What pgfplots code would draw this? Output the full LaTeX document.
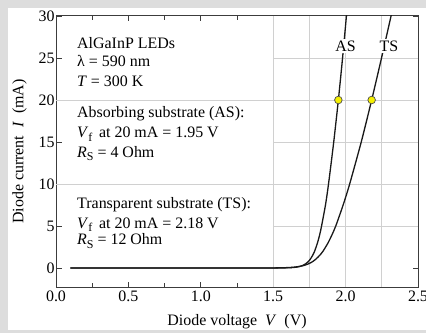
\documentclass[border=0pt]{standalone}
\usepackage{fontspec}
\setmainfont{Liberation Serif}
\usepackage{pgfplots}
\pgfplotsset{compat=1.18}
\definecolor{bggray}{RGB}{221,221,221}
\definecolor{gridgray}{RGB}{208,208,208}
\definecolor{dotyellow}{RGB}{245,240,0}
\definecolor{axgray}{RGB}{60,60,60}
\newcommand\fs{\fontsize{16}{18}\selectfont}
\newcommand\sub[1]{\raisebox{-0.45ex}{\fontsize{12}{12}\selectfont #1}}

\begin{document}
\begin{tikzpicture}[font=\fs]
\useasboundingbox (0,0) rectangle (426bp,333bp);
\fill[bggray] (0,0) rectangle (426bp,333bp);
\fill[white] (8bp,3bp) rectangle (426bp,325bp);
\begin{axis}[
  at={(56bp,46bp)}, anchor=south west,
  scale only axis, width=362bp, height=271bp,
  xmin=0, xmax=2.5, ymin=-2.26, ymax=30,
  xtick={0,0.5,1,1.5,2,2.5},
  minor xtick={0.25,0.75,1.25,1.75,2.25},
  xticklabels={0.0,0.5,1.0,1.5,2.0,2.5},
  ytick={0,5,10,15,20,25,30},
  yticklabels={0,5,10,15,20,25,30},
  ytick pos=both, yticklabel pos=left,
  tick align=inside,
  major tick length=5.5bp, minor tick length=4bp,
  axis line style={draw=axgray, line width=1bp},
  every tick/.style={draw=axgray, line width=0.9bp},
  tick label style={font=\fs},
  yticklabel style={xshift=2bp},
  xlabel={Diode voltage\enspace\textit{V}\enspace(V)},
  ylabel={Diode current\enspace\textit{I}\enspace(mA)},
  label style={font=\fs},
  xlabel style={yshift=-6bp},
  ylabel style={yshift=5bp},
]
% grid
\draw[gridgray, line width=0.9bp] (axis cs:0,10) -- (axis cs:2.5,10);
\draw[gridgray, line width=0.9bp] (axis cs:0,20) -- (axis cs:2.5,20);
\draw[gridgray, line width=0.9bp] (axis cs:1.5,5) -- (axis cs:2.5,5);
\draw[gridgray, line width=0.9bp] (axis cs:1.5,15) -- (axis cs:2.5,15);
\draw[gridgray, line width=0.9bp] (axis cs:1.5,25) -- (axis cs:2.5,25);
\draw[gridgray, line width=0.9bp] (axis cs:1.5,-2.26) -- (axis cs:1.5,30);
\draw[gridgray, line width=0.9bp] (axis cs:1.75,-2.26) -- (axis cs:1.75,30);
\draw[gridgray, line width=0.9bp] (axis cs:2.0,-2.26) -- (axis cs:2.0,30);
\draw[gridgray, line width=0.9bp] (axis cs:2.25,-2.26) -- (axis cs:2.25,30);
% AS curve
\addplot[black!90, line width=1.3bp, smooth, tension=0.4] coordinates {
 (0.1,0) (1.0,0) (1.474,0.001) (1.566,0.01) (1.630,0.05) (1.658,0.1) (1.686,0.2)
 (1.703,0.3) (1.724,0.5) (1.7385,0.7) (1.754,1) (1.7722,1.5) (1.786,2) (1.806,3)
 (1.8215,4) (1.834,5) (1.861,7.5) (1.882,10) (1.918,15) (1.950,20) (1.979,25) (2.011,31)
};
% TS curve
\addplot[black!90, line width=1.3bp, smooth, tension=0.4] coordinates {
 (0.1,0) (1.0,0) (1.366,0.001) (1.504,0.01) (1.601,0.05) (1.643,0.1) (1.686,0.2)
 (1.7111,0.3) (1.744,0.5) (1.7663,0.7) (1.791,1) (1.8208,1.5) (1.844,2) (1.879,3)
 (1.9072,4) (1.932,5) (1.983,7.5) (2.028,10) (2.108,15) (2.180,20) (2.248,25) (2.327,31)
};
% operating points
\addplot[only marks, mark=*, mark size=3.8bp, mark options={fill=dotyellow, draw=black!70, line width=0.7bp}]
  coordinates {(1.95,20) (2.18,20)};
% curve labels
\node[fill=white, inner sep=1.5bp] at (axis cs:2.0,26.4) {AS};
\node[fill=white, inner sep=1.5bp] at (axis cs:2.30,26.4) {TS};
% text blocks
\node[anchor=base west, inner sep=0] at (axis cs:0.145,26.19) {AlGaInP LEDs};
\node[anchor=base west, inner sep=0] at (axis cs:0.145,23.93) {λ = 590 nm};
\node[anchor=base west, inner sep=0] at (axis cs:0.145,21.55) {\textit{T} = 300 K};
\node[anchor=base west, inner sep=0] at (axis cs:0.145,17.86) {Absorbing substrate (AS):};
\node[anchor=base west, inner sep=0] at (axis cs:0.145,15.48) {\textit{V}\sub{f}\, at 20 mA = 1.95 V};
\node[anchor=base west, inner sep=0] at (axis cs:0.145,13.21) {\textit{R}\sub{S} = 4 Ohm};
\node[anchor=base west, inner sep=0] at (axis cs:0.145,7.14) {Transparent substrate (TS):};
\node[anchor=base west, inner sep=0] at (axis cs:0.145,4.76) {\textit{V}\sub{f}\, at 20 mA = 2.18 V};
\node[anchor=base west, inner sep=0] at (axis cs:0.145,2.74) {\textit{R}\sub{S} = 12 Ohm};
\end{axis}
\end{tikzpicture}
\end{document}
